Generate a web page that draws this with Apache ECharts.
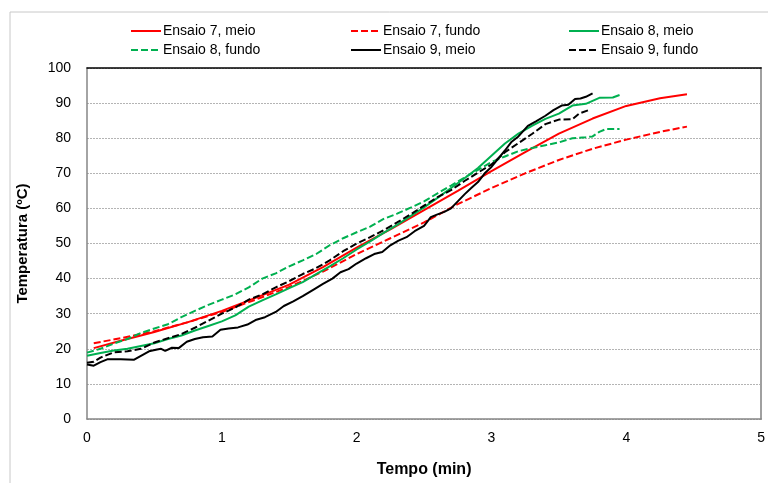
<!DOCTYPE html>
<html>
<head>
<meta charset="utf-8">
<script src="https://cdn.jsdelivr.net/npm/echarts@6/dist/echarts.min.js"></script>
<style>
  html, body { margin: 0; padding: 0; background: #fff; }
  #chart { width: 768px; height: 483px; }
</style>
</head>
<body>
<div id="chart"></div>
<script>
// tempo (min) e temperatura (ºC)
const t7meio = [0.05, 0.25, 0.5, 0.75, 1, 1.25, 1.5, 1.75, 2, 2.25, 2.5, 2.75, 3, 3.25, 3.5, 3.75, 4, 4.25, 4.45];
const v7meio = [20.2, 22.3, 24.8, 27.6, 30.8, 34.5, 38.3, 43.3, 48.8, 54, 59.5, 65, 70.6, 76, 81.3, 85.6, 89.2, 91.4, 92.5];

const t7fundo = [0.05, 0.25, 0.5, 0.75, 1, 1.25, 1.5, 1.75, 2, 2.25, 2.5, 2.75, 3, 3.25, 3.5, 3.75, 4, 4.25, 4.45];
const v7fundo = [21.6, 23, 25, 27.6, 30.5, 34, 37.6, 42, 47, 51.5, 56, 61.2, 65.8, 70, 73.8, 77, 79.6, 81.8, 83.3];

const t8meio = [0, 0.1, 0.2, 0.3, 0.4, 0.5, 0.6, 0.7, 0.8, 0.9, 1, 1.1, 1.2, 1.3, 1.4, 1.5, 1.6, 1.7, 1.8, 1.9, 2,
  2.1, 2.2, 2.3, 2.4, 2.5, 2.6, 2.7, 2.8, 2.9, 3, 3.1, 3.2, 3.3, 3.4, 3.5, 3.6, 3.7, 3.8, 3.9, 3.95];
const v8meio = [18, 18.8, 19.5, 20, 20.8, 21.6, 22.8, 23.8, 25.2, 26.5, 27.8, 29.5, 32, 33.8, 35.5, 37.3, 39, 41.3, 43.5, 45.8, 48.3,
  50.6, 53, 55.3, 57.8, 60.3, 63, 65.8, 68.6, 71.5, 75, 78.5, 81.3, 83.5, 85.5, 87, 89.3, 89.8, 91.5, 91.6, 92.3];

const t8fundo = [0, 0.1, 0.2, 0.3, 0.4, 0.5, 0.6, 0.7, 0.8, 0.9, 1, 1.1, 1.2, 1.3, 1.4, 1.5, 1.6, 1.7, 1.8, 1.9, 2,
  2.1, 2.2, 2.3, 2.4, 2.5, 2.6, 2.7, 2.8, 2.9, 3, 3.1, 3.2, 3.3, 3.4, 3.5, 3.6, 3.7, 3.75, 3.8, 3.85, 3.95];
const v8fundo = [18.9, 20, 21.5, 22.8, 24.5, 25.8, 27, 29, 30.8, 32.5, 34, 35.5, 37.5, 40, 41.5, 43.5, 45.2, 47, 49.5, 51.5, 53.2,
  54.8, 57, 58.5, 60.2, 62, 64.3, 66.5, 68.8, 71, 73.2, 74.8, 76.3, 77.2, 78, 78.8, 80, 80.3, 80.5, 81.8, 82.6, 82.6];

const t9meio = [0, 0.05, 0.1, 0.15, 0.25, 0.35, 0.4, 0.46, 0.52, 0.55, 0.58, 0.63, 0.68, 0.74, 0.8, 0.86, 0.93, 0.99,
  1.05, 1.12, 1.19, 1.25, 1.32, 1.4, 1.46, 1.53, 1.6, 1.69, 1.75, 1.82, 1.88, 1.94, 2, 2.07, 2.13, 2.19, 2.25, 2.31,
  2.37, 2.43, 2.5, 2.55, 2.6, 2.65, 2.7, 2.75, 2.8, 2.85, 2.9, 2.95, 3, 3.05, 3.1, 3.15, 3.2, 3.27, 3.33, 3.4, 3.46,
  3.52, 3.57, 3.62, 3.66, 3.7, 3.75];
const v9meio = [15.5, 15.2, 16.2, 17, 17, 16.9, 18, 19.3, 19.8, 20, 19.4, 20.3, 20.2, 22, 22.8, 23.3, 23.5, 25.4,
  25.8, 26.1, 26.9, 28.2, 29, 30.5, 32.2, 33.5, 35, 37.1, 38.5, 40, 41.8, 42.7, 44.3, 45.8, 47, 47.6, 49.5, 50.8,
  51.8, 53.5, 55, 57.5, 58.3, 59, 60, 62, 64, 65.8, 67.5, 70, 71.8, 74.2, 76.5, 79, 80.5, 83.5, 84.8, 86.4, 88,
  89.3, 89.5, 91.2, 91.3, 91.8, 92.8];

const t9fundo = [0, 0.05, 0.1, 0.2, 0.3, 0.4, 0.5, 0.6, 0.7, 0.8, 0.9, 1, 1.1, 1.2, 1.3, 1.4, 1.5, 1.6, 1.7, 1.8, 1.9, 2,
  2.1, 2.2, 2.3, 2.4, 2.5, 2.6, 2.7, 2.8, 2.9, 3, 3.1, 3.2, 3.3, 3.4, 3.5, 3.6, 3.65, 3.72];
const v9fundo = [16, 16.3, 17.5, 19, 19.3, 20, 21.8, 23, 24.2, 26, 28, 30, 31.8, 34, 35.5, 37.5, 39.3, 41.3, 43, 45.2, 47.8, 50,
  51.8, 53.8, 56, 58.3, 60.8, 63.2, 65.2, 67.8, 70.2, 72.5, 76, 78.6, 81.2, 84, 85.3, 85.4, 87, 88];

const xTicks = [0, 1, 2, 3, 4, 5];
const yTicks = [0, 10, 20, 30, 40, 50, 60, 70, 80, 90, 100];

const FONT = "'Liberation Sans', Arial, sans-serif";
const RED = "#FF0000", GREEN = "#00B050", BLACK = "#000000";

function zip(ts, vs) {
  return ts.map((t, i) => [t, vs[i]]);
}

function serie(name, ts, vs, color, dashed) {
  return {
    name: name,
    type: "line",
    data: zip(ts, vs),
    symbol: "none",
    smooth: false,
    xAxisIndex: 0,
    yAxisIndex: 0,
    itemStyle: { color: color },
    lineStyle: { color: color, width: 2, type: dashed ? [7, 3] : "solid" }
  };
}

const legendBase = {
  orient: "vertical",
  top: 19,
  itemWidth: 30,
  itemHeight: 14,
  itemGap: 5,
  itemStyle: { opacity: 0 },
  textStyle: { fontFamily: FONT, fontSize: 14, color: "#000", padding: [0, 0, 0, -3] }
};

const chart = echarts.init(document.getElementById("chart"));
chart.setOption({
  animation: false,
  backgroundColor: "#fff",
  textStyle: { fontFamily: FONT },
  graphic: [{
    type: "rect",
    shape: { x: 10, y: 12, width: 800, height: 520 },
    style: { fill: "none", stroke: "#C8C8C8", lineWidth: 1 },
    silent: true
  }],
  grid: { left: 87, right: 6, top: 68, bottom: 58 },
  legend: [
    Object.assign({}, legendBase, { left: 125, data: ["Ensaio 7, meio", "Ensaio 8, fundo"] }),
    Object.assign({}, legendBase, { left: 345, data: ["Ensaio 7, fundo", "Ensaio 9, meio"] }),
    Object.assign({}, legendBase, { left: 563, data: ["Ensaio 8, meio", "Ensaio 9, fundo"] })
  ],
  xAxis: [{
    type: "value",
    min: xTicks[0],
    max: xTicks[xTicks.length - 1],
    interval: 1,
    name: "Tempo (min)",
    nameLocation: "middle",
    nameGap: 43,
    nameTextStyle: { fontFamily: FONT, fontSize: 16, fontWeight: "bold", color: "#000" },
    axisLine: { lineStyle: { color: "#868686", width: 1.5 } },
    axisTick: { show: false },
    axisLabel: { fontFamily: FONT, fontSize: 14, color: "#000", margin: 12 },
    splitLine: { show: false }
  }, {
    type: "value",
    position: "top",
    min: 0,
    max: 5,
    axisLine: { show: true, onZero: false, lineStyle: { color: "#000", width: 1.5 } },
    axisTick: { show: false },
    axisLabel: { show: false },
    splitLine: { show: false }
  }],
  yAxis: [{
    type: "value",
    min: yTicks[0],
    max: yTicks[yTicks.length - 1],
    interval: 10,
    name: "Temperatura (ºC)",
    nameLocation: "middle",
    nameGap: 57,
    nameTextStyle: { fontFamily: FONT, fontSize: 15, fontWeight: "bold", color: "#000" },
    axisLine: { show: true, lineStyle: { color: "#868686", width: 1.5 } },
    axisTick: { show: false },
    axisLabel: { fontFamily: FONT, fontSize: 14, color: "#000", margin: 16 },
    splitLine: { show: true, lineStyle: { color: "#B4B4B4", type: [2, 1], width: 1 } }
  }, {
    type: "value",
    position: "right",
    min: 0,
    max: 100,
    axisLine: { show: true, onZero: false, lineStyle: { color: "#A0A0A0", width: 2 } },
    axisTick: { show: false },
    axisLabel: { show: false },
    splitLine: { show: false }
  }],
  series: [
    serie("Ensaio 7, meio", t7meio, v7meio, RED, false),
    serie("Ensaio 7, fundo", t7fundo, v7fundo, RED, true),
    serie("Ensaio 8, meio", t8meio, v8meio, GREEN, false),
    serie("Ensaio 8, fundo", t8fundo, v8fundo, GREEN, true),
    serie("Ensaio 9, meio", t9meio, v9meio, BLACK, false),
    serie("Ensaio 9, fundo", t9fundo, v9fundo, BLACK, true)
  ]
});
</script>
</body>
</html>
